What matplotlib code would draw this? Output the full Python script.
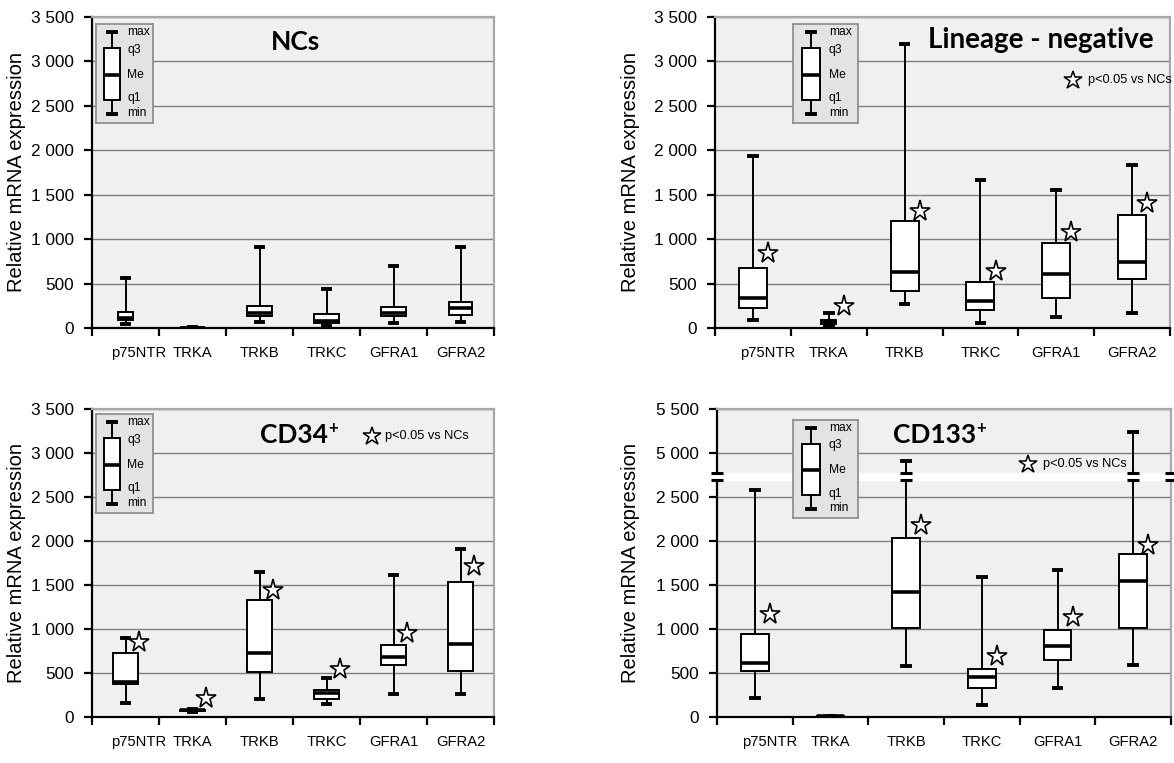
import matplotlib
matplotlib.use('Agg')
import matplotlib.pyplot as plt
from matplotlib import font_manager

# which fonts we have
installed = {f.name for f in font_manager.fontManager.ttflist}
NARROW = 'Liberation Sans Narrow' if 'Liberation Sans Narrow' in installed else 'Liberation Sans'
HAVE_NARROW = NARROW == 'Liberation Sans Narrow'
REGULAR = 'Liberation Sans'
TITLE = 'Lato' if 'Lato' in installed else 'DejaVu Sans'
# regular Arial-like font is wider than the narrow one, so shrink it a bit
SHRINK = 1.0 if HAVE_NARROW else 0.92

genes = ['p75NTR', 'TRKA', 'TRKB', 'TRKC', 'GFRA1', 'GFRA2']

# min, q1, median, q3, max
nc_stats = [[41, 95, 110, 175, 558], [0, 2, 4, 6, 10], [71, 135, 172, 247, 907],
            [22, 60, 82, 154, 435], [60, 135, 172, 232, 700], [67, 150, 221, 296, 914]]
lin_stats = [[90, 225, 334, 672, 1934], [19, 45, 64, 94, 169], [270, 413, 627, 1202, 3196],
             [60, 203, 300, 522, 1667], [128, 334, 608, 954, 1558], [165, 548, 747, 1269, 1829]]
cd34_stats = [[158, 376, 395, 723, 903], [62, 68, 75, 82, 90], [207, 508, 730, 1325, 1645],
              [151, 199, 271, 309, 448], [263, 591, 685, 820, 1611], [263, 523, 824, 1539, 1908]]
cd133_stats = [[219, 520, 618, 943, 2579], [0, 3, 8, 12, 15], [581, 1011, 1422, 2036, 4911],
               [140, 332, 452, 547, 1587], [324, 649, 811, 988, 1670], [596, 1007, 1550, 1855, 5243]]

# heights of the significance stars (None = no star)
lin_stars = [845, 252, 1322, 638, 1085, 1404]
cd34_stars = [847, 218, 1441, 546, 952, 1712]
cd133_stars = [1169, None, 2187, 698, 1131, 1953]

# broken y axis of the CD133+ panel: 2750..4750 is cut out
CUT_LO, CUT_HI = 2750, 4750
GAP_LO, GAP_HI = 2690, 2775

def cut(v):
    return v if v <= CUT_LO else v - (CUT_HI - CUT_LO)

def fmt(v):
    return f'{v:,}'.replace(',', ' ')

W, H = 1174, 763
def rect(l, r, t, b):
    return [l / W, (H - b) / H, (r - l) / W, (b - t) / H]

fig = plt.figure(figsize=(W / 100, H / 100), dpi=100)

BOX = dict(showfliers=False, patch_artist=True, manage_ticks=False,
           boxprops=dict(facecolor='white', edgecolor='black', linewidth=1.4),
           medianprops=dict(color='black', linewidth=2.6, solid_capstyle='butt'),
           whiskerprops=dict(color='black', linewidth=1.4),
           capprops=dict(color='black', linewidth=2.8))


def legend_box(r):
    lx = fig.add_axes(r)
    lx.set_facecolor('#e3e3e3')
    for s in lx.spines.values():
        s.set_color('#8a8a8a')
        s.set_linewidth(1.2)
    lx.set_xlim(0, 1)
    lx.set_ylim(0, 1)
    lx.set_xticks([])
    lx.set_yticks([])
    lx.bxp([dict(whislo=0.09, q1=0.23, med=0.485, q3=0.76, whishi=0.92)],
           positions=[0.28], widths=0.28, capwidths=0.13, **BOX)
    for lab, y in [('max', 0.92), ('q3', 0.74), ('Me', 0.485), ('q1', 0.25), ('min', 0.10)]:
        lx.text(0.55, y, lab, fontsize=9.5 * SHRINK, family=NARROW, va='center', ha='left')


def panel(r, rows, ylabel_x, widths, stars=None, broken=False):
    ax = fig.add_axes(r)
    ax.set_facecolor('#f0f0f0')
    ax.set_xlim(-0.5, 5.5)
    ax.set_ylim(0, 3500)
    if broken:
        ticks = [0, 500, 1000, 1500, 2000, 2500, 5000, 5500]
        ax.set_yticks([cut(t) for t in ticks])
    else:
        ticks = list(range(0, 3501, 500))
        ax.set_yticks(ticks)
    ax.set_yticklabels([fmt(t) for t in ticks], fontsize=13.5 * SHRINK, family=NARROW)
    ax.yaxis.grid(True, color='#7f7f7f', lw=1)
    ax.set_axisbelow(True)
    for side in ['left', 'bottom']:
        ax.spines[side].set_color('black')
        ax.spines[side].set_linewidth(1.6)
    for side in ['top', 'right']:
        ax.spines[side].set_color('#a8a8a8')
        ax.spines[side].set_linewidth(1.6)

    vals = [[cut(v) for v in row] if broken else row for row in rows]
    st = [dict(whislo=a, q1=b, med=c, q3=d, whishi=e) for a, b, c, d, e in vals]
    ax.bxp(st, positions=range(len(st)), widths=widths, capwidths=0.1, **BOX)

    ax.set_xlim(-0.5, 5.5)
    ax.set_xticks([i - 0.5 for i in range(7)])
    ax.set_xticklabels([])
    ax.set_xticks([0.2, 1, 2, 3, 4, 5], minor=True)
    ax.set_xticklabels(genes, minor=True, fontsize=11.5 * SHRINK, family=NARROW)
    ax.tick_params(axis='x', which='major', length=6, width=1.6, direction='out')
    ax.tick_params(axis='x', which='minor', length=0, pad=13)
    ax.tick_params(axis='y', length=6, width=1.6, pad=7)
    ax.set_ylabel('Relative mRNA expression', fontsize=14.5, family=REGULAR)
    ax.yaxis.set_label_coords(ylabel_x, 0.5)
    ax.yaxis.label.set_va('center')

    if stars is not None:
        xs = [i + 0.2 for i, s in enumerate(stars) if s is not None]
        ys = [s for s in stars if s is not None]
        ax.plot(xs, ys, ls='none', marker='*', ms=15.5, mfc='white', mec='black', mew=1.2)

    if broken:
        ax.axhspan(GAP_LO, GAP_HI, xmin=-0.01, xmax=1.01, color='white', zorder=10, clip_on=False)
        xs = [-0.5, 5.5] + [i for i, row in enumerate(rows) if row[4] > CUT_HI]
        for y in (GAP_LO, GAP_HI):
            ax.plot(xs, [y] * len(xs), ls='none', marker='_', ms=9, mew=2.2,
                    color='black', zorder=11, clip_on=False)
    return ax


def sig_note(ax, x, y):
    ax.plot([x], [y], transform=ax.transAxes, marker='*', ms=13.5, mfc='white',
            mec='black', mew=1.1, ls='none', clip_on=False, zorder=12)
    ax.text(x + 0.033, y, 'p<0.05 vs NCs', transform=ax.transAxes, fontsize=10 * SHRINK,
            family=NARROW, va='center', ha='left', zorder=12)


def sup_title(ax, x, y, main):
    t = ax.text(x, y, main, transform=ax.transAxes, fontsize=19, fontweight='bold',
                family=TITLE, ha='left', va='center', zorder=12)
    ax.annotate('+', xy=(1.0, 0.78), xycoords=t, fontsize=12, fontweight='bold',
                family=TITLE, ha='left', va='center', zorder=12)


# NCs
ax1 = panel(rect(92, 494, 17, 328), nc_stats, -0.187, [0.23, 0.33, 0.36, 0.37, 0.36, 0.35])
ax1.text(0.507, 0.92, 'NCs', transform=ax1.transAxes, fontsize=19, fontweight='bold',
         family=TITLE, ha='center', va='center')
legend_box(rect(96, 153, 24, 123))

# Lineage - negative
ax2 = panel(rect(715, 1170, 17, 328), lin_stats, -0.185,
            [0.37, 0.2, 0.37, 0.37, 0.37, 0.37], stars=lin_stars)
ax2.text(0.715, 0.925, 'Lineage - negative', transform=ax2.transAxes, fontsize=20,
         fontweight='bold', family=TITLE, ha='center', va='center')
sig_note(ax2, 0.787, 0.797)
legend_box(rect(793, 858, 24, 123))

# CD34+
ax3 = panel(rect(92, 494, 409, 717), cd34_stats, -0.187, 0.36, stars=cd34_stars)
sup_title(ax3, 0.418, 0.916, 'CD34')
sig_note(ax3, 0.697, 0.912)
legend_box(rect(96, 153, 414, 513))

# CD133+
ax4 = panel(rect(717, 1171, 409, 717), cd133_stats, -0.19, 0.37, stars=cd133_stars, broken=True)
sup_title(ax4, 0.388, 0.916, 'CD133')
sig_note(ax4, 0.685, 0.821)
legend_box(rect(793, 858, 420, 518))

fig.savefig('out.png', dpi=100, facecolor='white')
